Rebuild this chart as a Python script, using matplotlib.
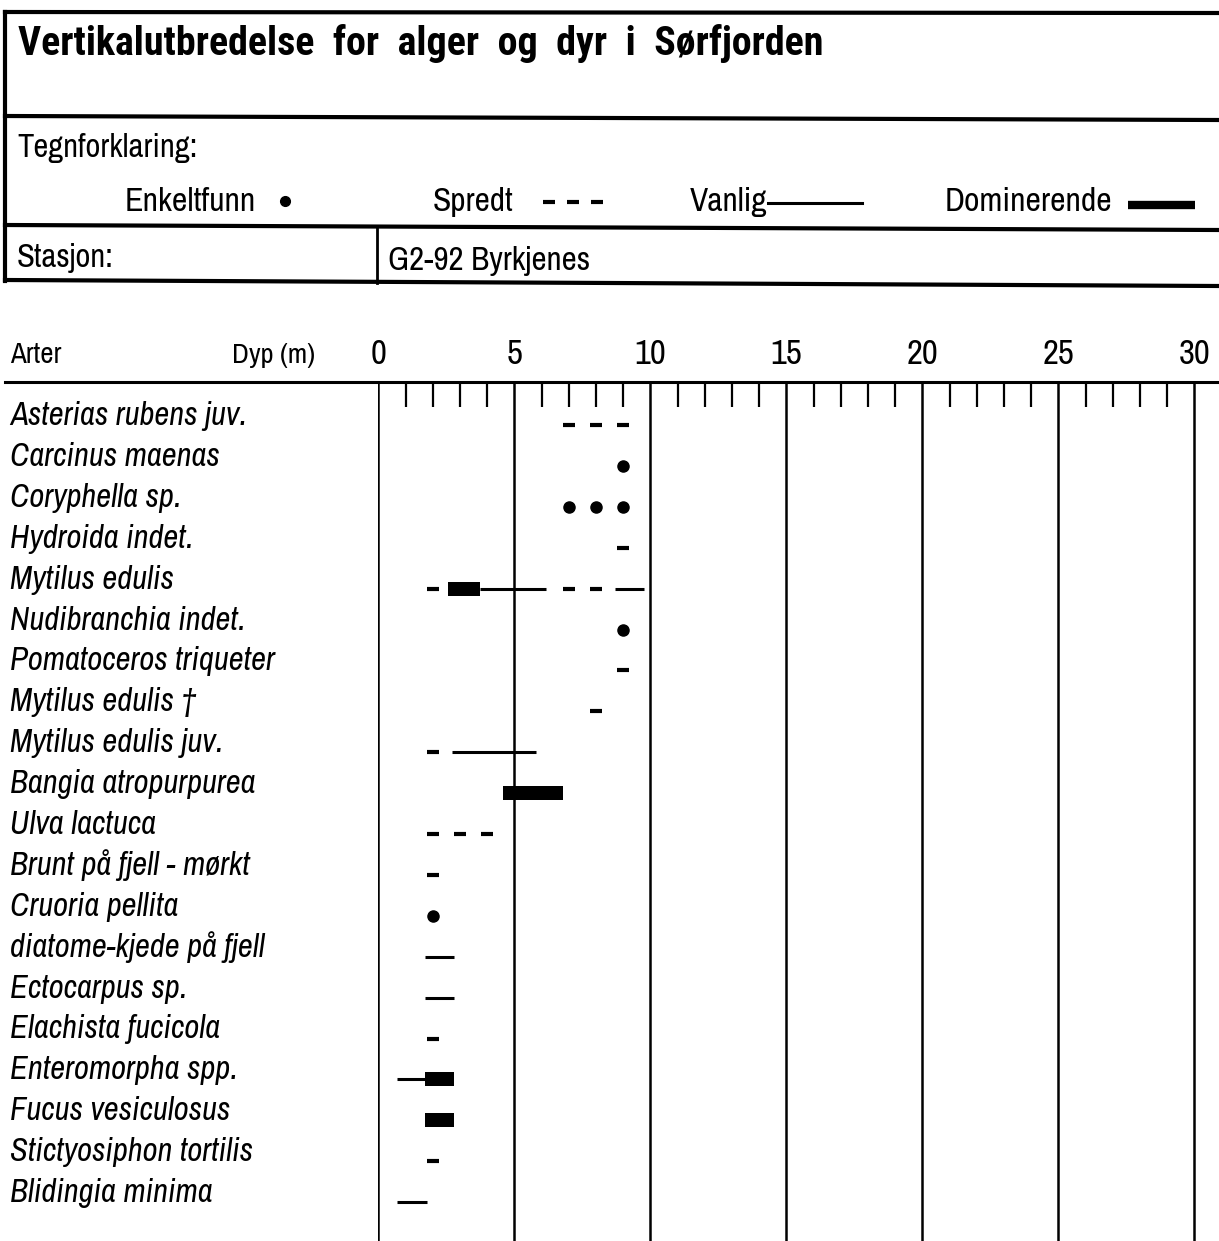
import matplotlib
matplotlib.use("Agg")
import matplotlib.pyplot as plt

plt.rcParams['font.family'] = ['Archivo Narrow', 'Liberation Sans', 'DejaVu Sans']
BOLD = ['Roboto Condensed', 'Fira Sans Condensed', 'Liberation Sans']

species = ["Asterias rubens juv.", "Carcinus maenas", "Coryphella sp.", "Hydroida indet.",
           "Mytilus edulis", "Nudibranchia indet.", "Pomatoceros triqueter", "Mytilus edulis \u2020",
           "Mytilus edulis juv.", "Bangia atropurpurea", "Ulva lactuca", "Brunt p\u00e5 fjell - m\u00f8rkt",
           "Cruoria pellita", "diatome-kjede p\u00e5 fjell", "Ectocarpus sp.", "Elachista fucicola",
           "Enteromorpha spp.", "Fucus vesiculosus", "Stictyosiphon tortilis", "Blidingia minima"]

# Enkeltfunn (punkt)
dot_row = [1, 2, 2, 2, 5, 12]
dot_depth = [9, 7, 8, 9, 9, 2]
# Spredt (korte streker)
spredt_row = [0, 0, 0, 3, 4, 4, 4, 6, 7, 8, 10, 10, 10, 11, 15, 18]
spredt_depth = [7, 8, 9, 9, 2, 7, 8, 9, 8, 2, 2, 3, 4, 2, 2, 2]
# Vanlig (tynn linje)
vanlig_row = [4, 4, 8, 13, 14, 16, 19]
vanlig_start = [3.75, 8.7, 2.7, 1.7, 1.7, 0.7, 0.7]
vanlig_end = [6.15, 9.75, 5.8, 2.8, 2.8, 1.7, 1.8]
# Dominerende (tykk bjelke)
dom_row = [4, 9, 16, 17]
dom_start = [2.55, 4.6, 1.7, 1.7]
dom_end = [3.75, 6.8, 2.8, 2.8]

depth_ticks = [0, 5, 10, 15, 20, 25, 30]
DASH = 0.22  # halv strek-lengde i meter

W, H = 1219, 1241
fig = plt.figure(figsize=(W / 100, H / 100), dpi=100)

# diagramdel
x0, ppm, row0, rowh, ytop = 378.3, 27.2, 425, 40.9, 382
ax = fig.add_axes([x0 / W, 0, 1 - x0 / W, 1 - ytop / H])
ax.set_xlim(0, (W - x0) / ppm)
ax.set_ylim((H - row0) / rowh, -(row0 - ytop) / rowh)
for s in ax.spines.values():
    s.set_visible(False)

ax.set_xticks(depth_ticks)
ax.set_xticks([i for i in range(1, 30) if i % 5], minor=True)
ax.xaxis.set_ticks_position('top')
ax.tick_params(axis='x', which='major', length=0, pad=9, labelsize=25)
ax.tick_params(axis='x', which='minor', direction='in', length=18, width=1.6, color='black')
ax.grid(True, axis='x', which='major', color='black', lw=1.8)

ax.set_yticks(range(len(species)))
ax.set_yticklabels(species, fontsize=23.5, fontstyle='italic')
ax.tick_params(axis='y', length=0, pad=(x0 - 10) / 1.389)
for lbl in ax.get_yticklabels():
    lbl.set_ha('left')
    lbl.set_va('baseline')

ax.plot(dot_depth, dot_row, 'o', ms=8, color='black', zorder=4)
ax.hlines(spredt_row, [d - DASH for d in spredt_depth], [d + DASH for d in spredt_depth],
          color='black', lw=3, zorder=4)
ax.hlines(vanlig_row, vanlig_start, vanlig_end, color='black', lw=2.2, zorder=4)
ax.barh(dom_row, [e - s for s, e in zip(dom_start, dom_end)], left=dom_start,
        height=0.34, color='black', zorder=4)

# topptekst / ramme
ov = fig.add_axes([0, 0, 1, 1])
ov.set_xlim(0, W)
ov.set_ylim(H, 0)
ov.axis('off')

for yl, yr in [(12, 13), (116, 120), (225, 230), (280, 286)]:
    ov.plot([5, W], [yl, yr], color='black', lw=3)
ov.plot([5, 5], [12, 281], color='black', lw=3)
ov.plot([377, 377], [226, 283], color='black', lw=2)
ov.plot([5, W], [382, 382], color='black', lw=2.2)

ov.text(18, 55, "Vertikalutbredelse  for  alger  og  dyr  i  S\u00f8rfjorden",
        fontsize=28.8, fontweight='bold', family=BOLD, va='baseline')
ov.text(17, 157, "Tegnforklaring:", fontsize=23.5, va='baseline')
ov.text(125, 211, "Enkeltfunn", fontsize=24.5, va='baseline')
ov.plot([285], [201], 'o', ms=7, color='black')
ov.text(433, 211, "Spredt", fontsize=24, va='baseline')
ov.hlines([202, 202, 202], [543, 567, 591], [555, 579, 603], color='black', lw=3)
ov.text(690, 211, "Vanlig", fontsize=24, va='baseline')
ov.plot([768, 862], [203, 203], color='black', lw=2.2)
ov.text(945, 211, "Dominerende", fontsize=24.3, va='baseline')
ov.plot([1128, 1195], [205, 205], color='black', lw=6, solid_capstyle='butt')
ov.text(17, 267, "Stasjon:", fontsize=23.5, va='baseline')
ov.text(388, 270, "G2-92 Byrkjenes", fontsize=23.8, va='baseline')

ov.text(10, 363, "Arter", fontsize=20.8, va='baseline')
ov.text(232, 363, "Dyp (m)", fontsize=20.5, va='baseline')

fig.savefig("out.png", dpi=100)
